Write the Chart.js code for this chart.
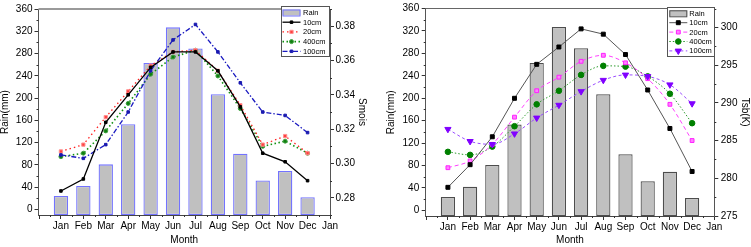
<!DOCTYPE html>
<html><head><meta charset="utf-8">
<script src="https://cdn.jsdelivr.net/npm/chart.js@4/dist/chart.umd.min.js"></script>
<style>
html,body{margin:0;padding:0;background:#fff;width:751px;height:247px;overflow:hidden}
#c1{position:absolute;left:0;top:0}
#c2{position:absolute;left:375px;top:0}
</style></head><body>
<canvas id="c1" width="375" height="247"></canvas>
<canvas id="c2" width="376" height="247"></canvas>
<script>
// ---------- data ----------
const months = ['Jan','Feb','Mar','Apr','May','Jun','Jul','Aug','Sep','Oct','Nov','Dec'];
const monthTickLabels = ['Jan','Feb','Mar','Apr','May','Jun','Jul','Aug','Sep','Oct','Nov','Dec','Jan'];
const rain = [24, 42, 81, 153, 263, 327, 289, 207, 100, 52, 69, 22];

const smois10  = [0.284, 0.291, 0.324, 0.340, 0.356, 0.365, 0.365, 0.354, 0.333, 0.306, 0.301, 0.290];
const smois20  = [0.307, 0.311, 0.327, 0.342, 0.357, 0.365, 0.366, 0.354, 0.334, 0.311, 0.316, 0.306];
const smois400 = [0.304, 0.306, 0.319, 0.335, 0.352, 0.362, 0.366, 0.351, 0.332, 0.310, 0.313, 0.306];
const smois100 = [0.305, 0.303, 0.311, 0.330, 0.354, 0.372, 0.381, 0.365, 0.347, 0.330, 0.328, 0.318];

const tsb10  = [278.8, 281.8, 285.5, 290.6, 295.1, 297.4, 299.8, 299.1, 296.4, 291.7, 286.6, 280.9];
const tsb20  = [281.4, 282.3, 284.5, 288.1, 291.6, 293.4, 295.5, 296.3, 295.3, 293.2, 289.8, 285.0];
const tsb400 = [283.5, 283.1, 284.2, 286.9, 289.8, 291.6, 293.7, 294.9, 294.8, 293.5, 291.2, 287.3];
const tsb100 = [286.5, 284.9, 284.5, 285.9, 288.0, 289.7, 291.5, 293.0, 293.7, 293.5, 292.4, 289.9];

const rainTicks  = [0, 40, 80, 120, 160, 200, 240, 280, 320, 360];
const smoisTicks = [0.28, 0.30, 0.32, 0.34, 0.36, 0.38];
const tsbTicks   = [275, 280, 285, 290, 295, 300];

// ---------- helpers ----------
const FAM = '"Liberation Sans", Arial, Helvetica, sans-serif';
const pts = arr => arr.map((v, i) => ({x: i + 1, y: v}));

const minorTicks = {
  id: 'minorTicks',
  afterDraw(chart, args, opts) {
    const ctx = chart.ctx;
    ctx.save();
    ctx.strokeStyle = opts.color || '#333';
    ctx.lineWidth = 1;
    (opts.axes || []).forEach(a => {
      const s = chart.scales[a.id];
      const vals = [];
      for (let v = a.from; v <= a.to + 1e-9; v += a.step) vals.push(v);
      vals.forEach(v => {
        const p = Math.round(s.getPixelForValue(v)) + 0.5;
        ctx.beginPath();
        if (s.position === 'left') { ctx.moveTo(s.right, p); ctx.lineTo(s.right - a.len, p); }
        else if (s.position === 'right') { ctx.moveTo(s.left, p); ctx.lineTo(s.left + a.len, p); }
        else { ctx.moveTo(p, s.top); ctx.lineTo(p, s.top + a.len); }
        ctx.stroke();
      });
    });
    // top frame line
    const ca = chart.chartArea;
    ctx.strokeStyle = opts.topColor;
    ctx.lineWidth = opts.topWidth;
    ctx.beginPath();
    ctx.moveTo(ca.left, ca.top); ctx.lineTo(ca.right, ca.top);
    ctx.stroke();
    ctx.restore();
  }
};

const boxLegend = {
  id: 'boxLegend',
  afterDraw(chart, args, o) {
    const ctx = chart.ctx;
    const ca = chart.chartArea;
    const bx = ca.right - o.rightGap - o.w, by = o.top;
    ctx.save();
    ctx.fillStyle = '#fff';
    ctx.fillRect(bx, by, o.w, o.h);
    ctx.strokeStyle = '#555';
    ctx.lineWidth = 1;
    ctx.strokeRect(Math.round(bx) + 0.5, Math.round(by) + 0.5, o.w, o.h);
    ctx.font = o.fontSize + 'px ' + FAM;
    ctx.textBaseline = 'middle';
    ctx.textAlign = 'left';
    chart.data.datasets.forEach((ds, i) => {
      const cy = by + o.first + i * o.rowH;
      const sx0 = bx + o.swPad, sx1 = sx0 + o.swW;
      if (ds.type === 'bar') {
        ctx.fillStyle = ds.backgroundColor;
        ctx.fillRect(sx0, cy - 3, o.swW, 6);
        ctx.strokeStyle = ds.borderColor;
        ctx.lineWidth = 1;
        ctx.strokeRect(sx0 + 0.5, cy - 3 + 0.5, o.swW - 1, 6);
      } else {
        ctx.strokeStyle = ds.borderColor;
        ctx.lineWidth = ds.borderWidth;
        ctx.setLineDash(ds.borderDash || []);
        ctx.beginPath(); ctx.moveTo(sx0, cy); ctx.lineTo(sx1, cy); ctx.stroke();
        ctx.setLineDash([]);
        ctx.fillStyle = ds.pointBackgroundColor;
        ctx.strokeStyle = ds.pointBorderColor;
        ctx.lineWidth = ds.pointBorderWidth || 1;
        Chart.helpers.drawPoint(ctx, {pointStyle: ds.pointStyle, radius: ds.pointRadius, rotation: ds.pointRotation || 0, borderWidth: ds.pointBorderWidth || 1}, (sx0 + sx1) / 2, cy);
      }
      ctx.fillStyle = '#000';
      ctx.fillText(ds.label, sx1 + o.textGap, cy + 0.5);
    });
    ctx.restore();
  }
};

function axisX(height, axisColor) {
  return {
    type: 'linear', position: 'bottom', min: 0, max: 13, offset: false,
    afterBuildTicks: s => { s.ticks = monthTickLabels.map((_, i) => ({value: i + 1})); },
    ticks: {autoSkip: false, maxRotation: 0, padding: 1, color: '#000', font: {family: FAM, size: 10},
            callback: (v, i) => monthTickLabels[i]},
    grid: {drawOnChartArea: false, drawTicks: true, tickLength: 4, color: '#333', offset: false},
    border: {display: true, color: axisColor, width: 1},
    title: {display: true, text: 'Month', color: '#000', font: {family: FAM, size: 10}, padding: {top: 0, bottom: 0.5}},
    afterFit: s => { s.height = height; }
  };
}
function axisY(pos, min, max, tickVals, fmt, width, title, titlePad, tickPad, axisColor, titleLH) {
  return {
    type: 'linear', position: pos, min: min, max: max,
    afterBuildTicks: s => { s.ticks = tickVals.map(v => ({value: v})); },
    ticks: {autoSkip: false, padding: tickPad, color: '#000', font: {family: FAM, size: 10}, callback: v => fmt(v)},
    grid: {drawOnChartArea: false, drawTicks: true, tickLength: 4, color: '#333'},
    border: {display: true, color: axisColor, width: 1},
    title: {display: true, text: title, color: '#000', font: {family: FAM, size: 10, lineHeight: titleLH || 1.2}, padding: {top: titlePad, bottom: 0}},
    afterFit: s => { s.width = width; }
  };
}

// ---------- left chart ----------
new Chart(document.getElementById('c1'), {
  type: 'line',
  data: {
    datasets: [
      {type: 'bar', label: 'Rain', data: pts(rain), yAxisID: 'y', xAxisID: 'x',
       backgroundColor: '#c0c0c0', borderColor: '#7373ff', borderWidth: 1.3, borderSkipped: false,
       barPercentage: 0.64, categoryPercentage: 1, base: -10, order: 10},
      {label: '10cm', data: pts(smois10), yAxisID: 'y2', borderColor: '#000', borderWidth: 1.3,
       pointStyle: 'rect', pointRadius: 1.8, pointBackgroundColor: '#000', pointBorderColor: '#000', pointBorderWidth: 1, tension: 0, order: 1},
      {label: '20cm', data: pts(smois20), yAxisID: 'y2', borderColor: '#ff2020', borderWidth: 1.3, borderDash: [1.5, 3],
       pointStyle: 'rect', pointRadius: 2.3, pointBackgroundColor: '#ff4040', pointBorderColor: '#ff9090', pointBorderWidth: 1, tension: 0, order: 3},
      {label: '400cm', data: pts(smois400), yAxisID: 'y2', borderColor: '#109010', borderWidth: 1.6, borderDash: [1.5, 2.5],
       pointStyle: 'circle', pointRadius: 2, pointBackgroundColor: '#108010', pointBorderColor: '#40a040', pointBorderWidth: 1, tension: 0, order: 4},
      {label: '100cm', data: pts(smois100), yAxisID: 'y2', borderColor: '#1a1ac0', borderWidth: 1.3, borderDash: [5, 2, 1.5, 2],
       pointStyle: 'rect', pointRadius: 1.8, pointBackgroundColor: '#1a1ab0', pointBorderColor: '#1a1ab0', pointBorderWidth: 1, tension: 0, order: 2}
    ]
  },
  options: {
    responsive: false, animation: false, events: [],
    layout: {padding: {top: 9, left: 0, right: 0, bottom: 0}},
    scales: {
      x: axisX(32, '#444'),
      y: axisY('left', -10, 360, rainTicks, v => String(v), 38.5, 'Rain(mm)', 0, 2, '#555', 1),
      y2: axisY('right', 0.27, 0.39, smoisTicks, v => v.toFixed(2), 45, 'Smois', 7, 1.5, '#555')
    },
    plugins: {
      legend: {display: false}, tooltip: {enabled: false},
      minorTicks: {color: '#333', topColor: '#9a9a9a', topWidth: 2, axes: [
        {id: 'y', from: 20, to: 340, step: 40, len: 2},
        {id: 'y2', from: 0.27, to: 0.39, step: 0.02, len: 2},
        {id: 'x', from: 0.5, to: 12.5, step: 1, len: 2},
        {id: 'x', from: 0, to: 0, step: 1, len: 4}
      ]},
      boxLegend: {rightGap: 1, top: 6, w: 48, h: 50, first: 6.5, rowH: 9.7, swPad: 1.5, swW: 18, textGap: 2.5, fontSize: 7.5}
    }
  },
  plugins: [minorTicks, boxLegend]
});

// ---------- right chart ----------
new Chart(document.getElementById('c2'), {
  type: 'line',
  data: {
    datasets: [
      {type: 'bar', label: 'Rain', data: pts(rain), yAxisID: 'y', xAxisID: 'x',
       backgroundColor: '#c0c0c0', borderColor: '#4d4d4d', borderWidth: 1.2, borderSkipped: false,
       barPercentage: 0.64, categoryPercentage: 1, base: -10, order: 10},
      {label: '10cm', data: pts(tsb10), yAxisID: 'y2', borderColor: '#555', borderWidth: 1,
       pointStyle: 'rect', pointRadius: 2.8, pointBackgroundColor: '#000', pointBorderColor: '#000', pointBorderWidth: 1, tension: 0, order: 1},
      {label: '20cm', data: pts(tsb20), yAxisID: 'y2', borderColor: '#ff40ff', borderWidth: 1, borderDash: [4, 3],
       pointStyle: 'rect', pointRadius: 2.7, pointBackgroundColor: '#ff80ff', pointBorderColor: '#ff20ff', pointBorderWidth: 1, tension: 0.4, cubicInterpolationMode: 'monotone', order: 3},
      {label: '400cm', data: pts(tsb400), yAxisID: 'y2', borderColor: '#2a9a2a', borderWidth: 1, borderDash: [1.5, 2],
       pointStyle: 'circle', pointRadius: 2.8, pointBackgroundColor: '#008000', pointBorderColor: '#008000', pointBorderWidth: 1, tension: 0.4, cubicInterpolationMode: 'monotone', order: 4},
      {label: '100cm', data: pts(tsb100), yAxisID: 'y2', borderColor: '#9a4dff', borderWidth: 1, borderDash: [3, 2.5],
       pointStyle: 'triangle', pointRotation: 180, pointRadius: 3.6, pointBackgroundColor: '#8000ff', pointBorderColor: '#8000ff', pointBorderWidth: 1, tension: 0.4, cubicInterpolationMode: 'monotone', order: 2}
    ]
  },
  options: {
    responsive: false, animation: false, events: [],
    layout: {padding: {top: 8, left: 0, right: 0, bottom: 0}},
    scales: {
      x: axisX(31, '#444'),
      y: axisY('left', -10, 360, rainTicks, v => String(v), 50.7, 'Rain(mm)', 10, 2.5, '#555'),
      y2: axisY('right', 275, 302.5, tsbTicks, v => String(v), 36.7, 'Tsb(K)', 0.5, 2.5, '#555')
    },
    plugins: {
      legend: {display: false}, tooltip: {enabled: false},
      minorTicks: {color: '#333', topColor: '#666', topWidth: 1, axes: [
        {id: 'y', from: 20, to: 340, step: 40, len: 2},
        {id: 'y2', from: 277.5, to: 302.5, step: 5, len: 2},
        {id: 'x', from: 0.5, to: 12.5, step: 1, len: 2},
        {id: 'x', from: 0, to: 0, step: 1, len: 4}
      ]},
      boxLegend: {rightGap: 0, top: 7, w: 47, h: 49, first: 6.3, rowH: 9.4, swPad: 2, swW: 18, textGap: 2, fontSize: 7.5}
    }
  },
  plugins: [minorTicks, boxLegend]
});
</script>
</body></html>
